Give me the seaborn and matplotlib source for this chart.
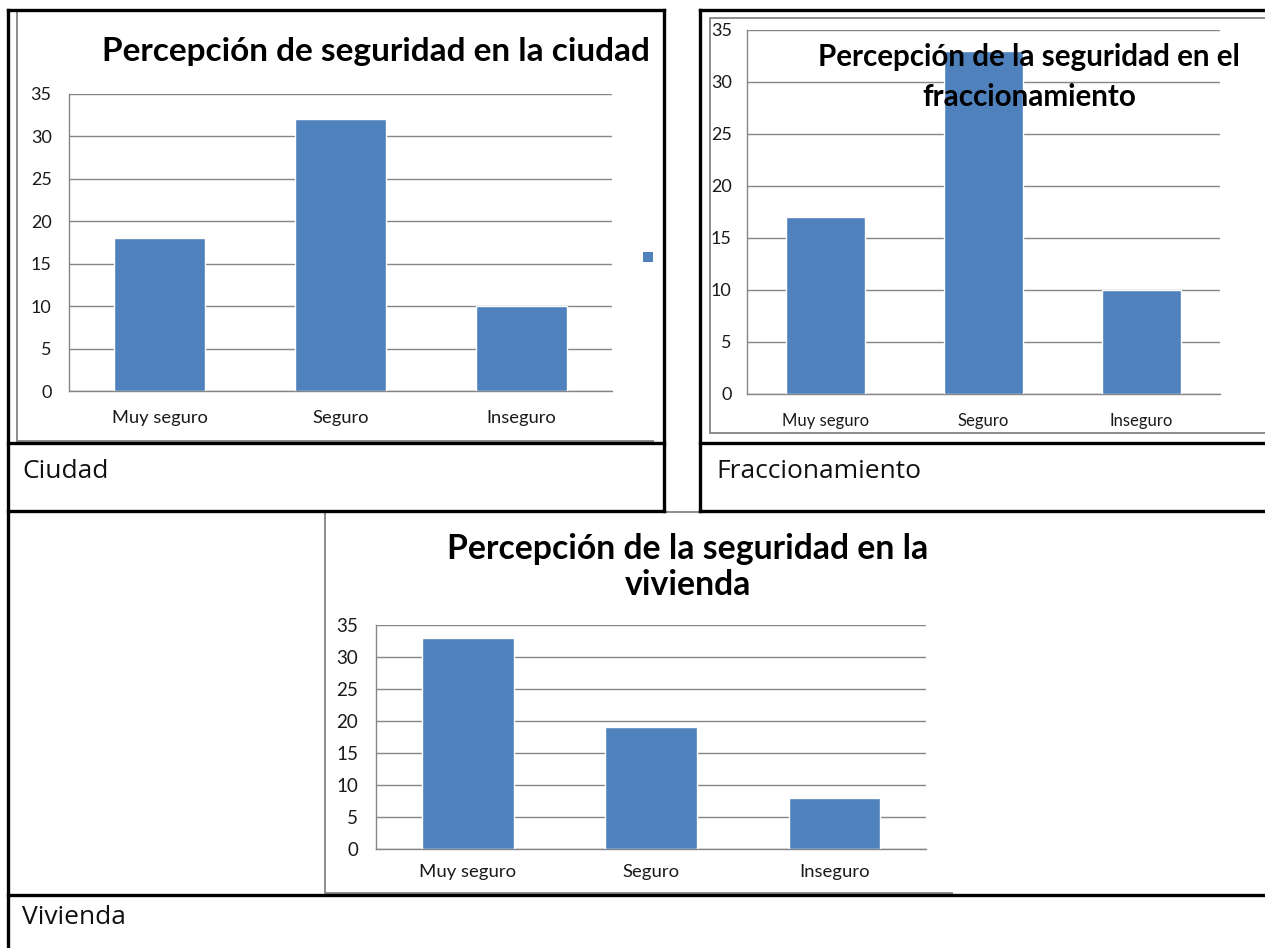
import matplotlib
matplotlib.use("Agg")

import matplotlib.pyplot as plt
import seaborn as sns
import pandas as pd
from matplotlib.lines import Line2D
from matplotlib.patches import Rectangle

# ── Data ──────────────────────────────────────────────────────────────────────
categories = ["Muy seguro", "Seguro", "Inseguro"]
ciudad_values = [18, 32, 10]
fracc_values = [17, 33, 10]
vivienda_values = [33, 19, 8]
y_ticks = [0, 5, 10, 15, 20, 25, 30, 35]

title_ciudad = "Percepción de seguridad en la ciudad"
title_fracc = "Percepción de la seguridad en el\nfraccionamiento"
title_vivienda = "Percepción de la seguridad en la\nvivienda"
cell_labels = ["Ciudad", "Fraccionamiento", "Vivienda"]

_W, _H = 1265, 948
_BAR = "#4F81BD"
_GRID = "#868686"


def fx(x):
    return x / _W


def fy(y):
    return 1 - y / _H


def _box(l, t, r, b):
    return [fx(l), fy(b), (r - l) / _W, (b - t) / _H]


def _line(fig, xs, ys, color="black", lw=2.4):
    fig.add_artist(Line2D([fx(x) for x in xs], [fy(y) for y in ys],
                          transform=fig.transFigure, color=color, lw=lw,
                          solid_capstyle="projecting"))


def _bar_chart(fig, box, values, tick_size, cat_size, ypad, xpad):
    ax = fig.add_axes(_box(*box))
    df = pd.DataFrame({"cat": categories, "val": values})
    sns.barplot(data=df, x="cat", y="val", color=_BAR, saturation=1,
                width=0.5, ax=ax, zorder=3)
    ax.set_xlim(-0.5, 2.5)
    ax.set_ylim(0, 35)
    ax.set_yticks(y_ticks)
    ax.yaxis.grid(True, color=_GRID, lw=1.0, zorder=0)
    ax.set_axisbelow(True)
    ax.set_xlabel("")
    ax.set_ylabel("")
    for side in ["top", "right"]:
        ax.spines[side].set_visible(False)
    for side in ["left", "bottom"]:
        ax.spines[side].set_color(_GRID)
        ax.spines[side].set_linewidth(1.0)
    ax.tick_params(axis="y", length=4.5, color=_GRID, labelsize=tick_size,
                   labelcolor="#1a1a1a", pad=ypad)
    ax.tick_params(axis="x", which="major", length=0, labelsize=cat_size,
                   labelcolor="#1a1a1a", pad=xpad)
    ax.set_xticks([-0.5, 0.5, 1.5, 2.5], minor=True)
    ax.tick_params(axis="x", which="minor", length=5, color=_GRID)
    for lab in ax.get_xticklabels() + ax.get_yticklabels():
        lab.set_fontfamily("Lato")
    ax.set_facecolor("none")
    return ax


sns.set_theme(style="white")
plt.rcParams["font.family"] = ["Lato", "DejaVu Sans"]

fig = plt.figure(figsize=(_W / 100, _H / 100), dpi=100)
fig.patch.set_facecolor("white")

# ── Chart frames (grey) ───────────────────────────────────────────────────────
_line(fig, [17, 17, 660], [441, 11, 11], color="#8c8c8c", lw=1.4)
_line(fig, [17, 653], [441, 441], color="#8c8c8c", lw=1.4)
_line(fig, [710, 710, 1265], [433, 18, 18], color="#8c8c8c", lw=1.4)
_line(fig, [710, 1265], [433, 433], color="#8c8c8c", lw=1.4)
_line(fig, [325, 325, 952], [512, 893, 893], color="#8c8c8c", lw=1.4)
_line(fig, [664, 700], [512, 512], color="#8c8c8c", lw=1.4)

# ── Charts ────────────────────────────────────────────────────────────────────
_bar_chart(fig, (69, 94, 612, 391), ciudad_values, 13, 13.2, 8, 14)
_bar_chart(fig, (747, 30, 1220, 394), fracc_values, 13, 12, 6.5, 14)
_bar_chart(fig, (376, 625, 926, 849), vivienda_values, 13.5, 13.3, 8.5, 11)

# legend marker without label
fig.add_artist(Rectangle((fx(643), fy(262)), 10 / _W, 10 / _H,
                         transform=fig.transFigure, facecolor=_BAR, edgecolor="none"))

# ── Titles ────────────────────────────────────────────────────────────────────
fig.text(fx(376), fy(51), title_ciudad, ha="center", va="center",
         fontsize=24, fontweight="bold", family="Lato", color="black")
fig.text(fx(1029), fy(77), title_fracc, ha="center", va="center",
         fontsize=21.3, fontweight="bold", family="Lato", color="black",
         linespacing=1.5, zorder=10)
fig.text(fx(688), fy(567), title_vivienda, ha="center", va="center",
         fontsize=24.3, fontweight="bold", family="Lato", color="black",
         linespacing=1.15)

# ── Table borders (black) ─────────────────────────────────────────────────────
_line(fig, [8, 664], [10, 10])
_line(fig, [700, 1265], [10, 10])
_line(fig, [8, 8], [10, 948])
_line(fig, [664, 664], [10, 511])
_line(fig, [700, 700], [10, 511])
_line(fig, [8, 664], [443, 443])
_line(fig, [700, 1265], [443, 443])
_line(fig, [8, 664], [511, 511])
_line(fig, [700, 1265], [511, 511])
_line(fig, [8, 1265], [895, 895])

# ── Cell captions ─────────────────────────────────────────────────────────────
fig.text(fx(22), fy(471), cell_labels[0], ha="left", va="center",
         fontsize=19, family="Open Sans", color="#111111")
fig.text(fx(716), fy(471), cell_labels[1], ha="left", va="center",
         fontsize=19, family="Open Sans", color="#111111")
fig.text(fx(22), fy(917), cell_labels[2], ha="left", va="center",
         fontsize=19, family="Open Sans", color="#111111")

fig.savefig("out.png", dpi=100)
